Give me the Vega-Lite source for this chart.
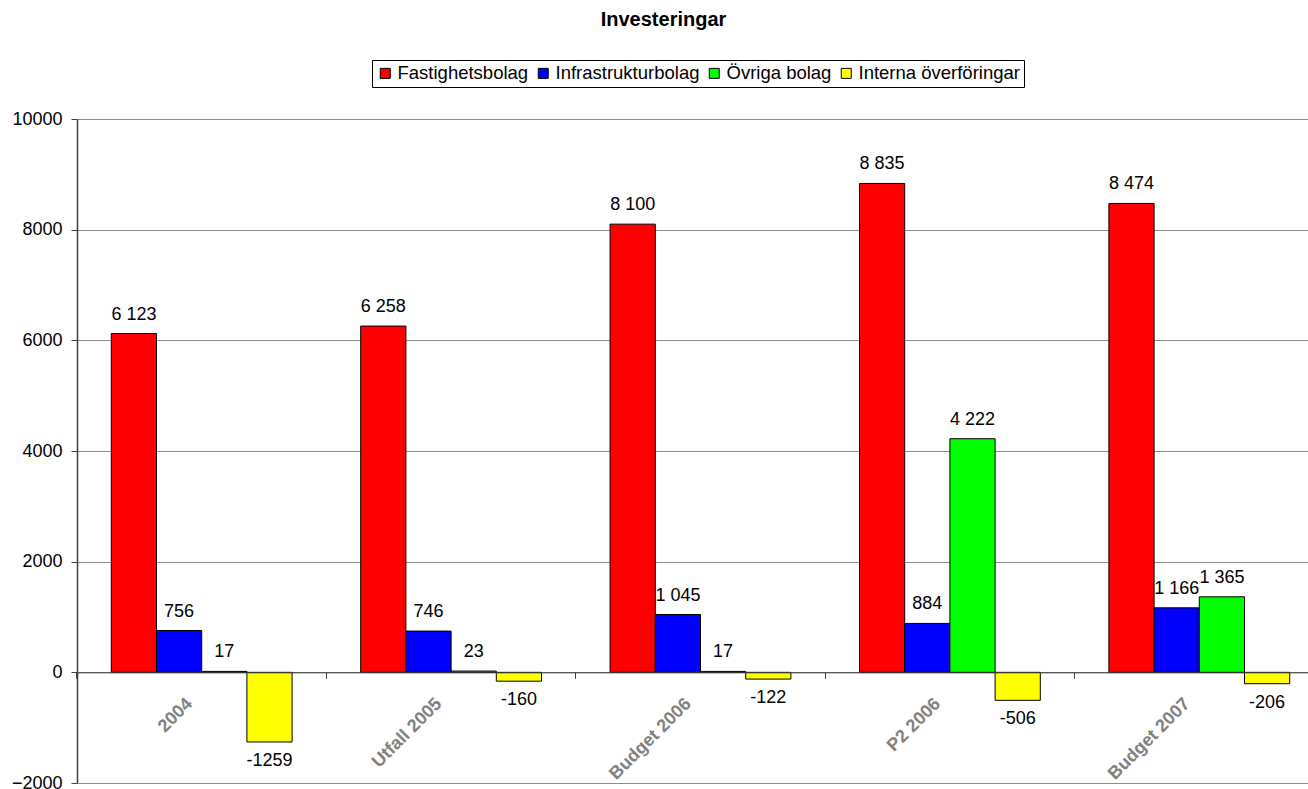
{
  "$schema": "https://vega.github.io/schema/vega-lite/v6.json",
  "autosize": "none",
  "padding": {"left": 77, "top": 119, "right": 0, "bottom": 6},
  "width": 1231,
  "height": 664,
  "background": "white",
  "title": {"text": "Investeringar", "fontSize": 20, "font": "Liberation Sans", "fontWeight": "bold", "color": "black", "anchor": "middle", "dx": -29, "offset": 30},
  "config": {"view": {"stroke": null}, "font": "Liberation Sans"},
  "datasets": {
    "inv": [
      {"category": "2004", "series": "Fastighetsbolag", "value": 6123, "label": "6 123"},
      {"category": "2004", "series": "Infrastrukturbolag", "value": 756, "label": "756"},
      {"category": "2004", "series": "Övriga bolag", "value": 17, "label": "17"},
      {"category": "2004", "series": "Interna överföringar", "value": -1259, "label": "-1259"},
      {"category": "Utfall 2005", "series": "Fastighetsbolag", "value": 6258, "label": "6 258"},
      {"category": "Utfall 2005", "series": "Infrastrukturbolag", "value": 746, "label": "746"},
      {"category": "Utfall 2005", "series": "Övriga bolag", "value": 23, "label": "23"},
      {"category": "Utfall 2005", "series": "Interna överföringar", "value": -160, "label": "-160"},
      {"category": "Budget 2006", "series": "Fastighetsbolag", "value": 8100, "label": "8 100"},
      {"category": "Budget 2006", "series": "Infrastrukturbolag", "value": 1045, "label": "1 045"},
      {"category": "Budget 2006", "series": "Övriga bolag", "value": 17, "label": "17"},
      {"category": "Budget 2006", "series": "Interna överföringar", "value": -122, "label": "-122"},
      {"category": "P2 2006", "series": "Fastighetsbolag", "value": 8835, "label": "8 835"},
      {"category": "P2 2006", "series": "Infrastrukturbolag", "value": 884, "label": "884"},
      {"category": "P2 2006", "series": "Övriga bolag", "value": 4222, "label": "4 222"},
      {"category": "P2 2006", "series": "Interna överföringar", "value": -506, "label": "-506"},
      {"category": "Budget 2007", "series": "Fastighetsbolag", "value": 8474, "label": "8 474"},
      {"category": "Budget 2007", "series": "Infrastrukturbolag", "value": 1166, "label": "1 166"},
      {"category": "Budget 2007", "series": "Övriga bolag", "value": 1365, "label": "1 365"},
      {"category": "Budget 2007", "series": "Interna överföringar", "value": -206, "label": "-206"}
    ]
  },
  "data": {"name": "inv"},
  "layer": [
    {
      "mark": {"type": "bar", "stroke": "black", "strokeWidth": 1},
      "encoding": {
        "x": {
          "field": "category", "type": "nominal", "sort": null,
          "scale": {"range": [0, 1247], "paddingInner": 0.275, "paddingOuter": 0.1375},
          "axis": {"orient": "bottom", "offset": -110.67, "bandPosition": -0.19, "labels": false, "title": null, "grid": false, "domainColor": "#404040", "domainWidth": 1, "tickColor": "#404040", "tickSize": 6, "zindex": 1}
        },
        "y": {
          "field": "value", "type": "quantitative",
          "scale": {"domain": [-2000, 10000], "nice": false, "zero": false},
          "axis": {"values": [-2000, 0, 2000, 4000, 6000, 8000, 10000], "format": "d", "title": null, "grid": true, "gridColor": "#8c8c8c", "gridWidth": 1, "domainColor": "#404040", "domainWidth": 1.5, "tickColor": "#404040", "tickSize": 6, "labelFontSize": 18, "labelColor": "black", "labelPadding": 9, "labelFont": "Liberation Sans"}
        },
        "xOffset": {"field": "series", "type": "nominal", "sort": ["Fastighetsbolag", "Infrastrukturbolag", "Övriga bolag", "Interna överföringar"], "scale": {"paddingInner": 0, "paddingOuter": 0}},
        "color": {
          "field": "series", "type": "nominal",
          "scale": {"domain": ["Fastighetsbolag", "Infrastrukturbolag", "Övriga bolag", "Interna överföringar"], "range": ["#FF0000", "#0000FF", "#00FF00", "#FFFF00"]},
          "legend": {"title": null, "orient": "none", "legendX": 295, "legendY": -59, "direction": "horizontal", "columns": 4, "strokeColor": "black", "padding": 4, "columnPadding": 5, "labelFontSize": 18.5, "labelLimit": 400, "labelColor": "black", "labelFont": "Liberation Sans", "labelOffset": 3, "symbolType": "square", "symbolSize": 100, "symbolStrokeColor": "black", "symbolStrokeWidth": 1, "symbolOpacity": 1}
        }
      }
    },
    {
      "transform": [{"filter": "datum.value >= 0"}],
      "mark": {"type": "text", "baseline": "alphabetic", "dy": -14, "fontSize": 18, "color": "black", "font": "Liberation Sans"},
      "encoding": {
        "x": {"field": "category", "type": "nominal", "sort": null},
        "y": {"field": "value", "type": "quantitative"},
        "xOffset": {"field": "series", "type": "nominal", "sort": ["Fastighetsbolag", "Infrastrukturbolag", "Övriga bolag", "Interna överföringar"]},
        "text": {"field": "label", "type": "nominal"}
      }
    },
    {
      "transform": [{"filter": "datum.value < 0"}],
      "mark": {"type": "text", "baseline": "top", "dy": 10, "fontSize": 18, "color": "black", "font": "Liberation Sans"},
      "encoding": {
        "x": {"field": "category", "type": "nominal", "sort": null},
        "y": {"field": "value", "type": "quantitative"},
        "xOffset": {"field": "series", "type": "nominal", "sort": ["Fastighetsbolag", "Infrastrukturbolag", "Övriga bolag", "Interna överföringar"]},
        "text": {"field": "label", "type": "nominal"}
      }
    },
    {
      "transform": [{"filter": "datum.series === 'Fastighetsbolag'"}],
      "mark": {"type": "text", "angle": 315, "align": "right", "baseline": "top", "dx": -29, "dy": 3, "fontSize": 18, "fontWeight": "bold", "color": "#808080", "font": "Liberation Sans"},
      "encoding": {
        "x": {"field": "category", "type": "nominal", "sort": null},
        "y": {"datum": 0, "type": "quantitative"},
        "text": {"field": "category", "type": "nominal"}
      }
    }
  ]
}
